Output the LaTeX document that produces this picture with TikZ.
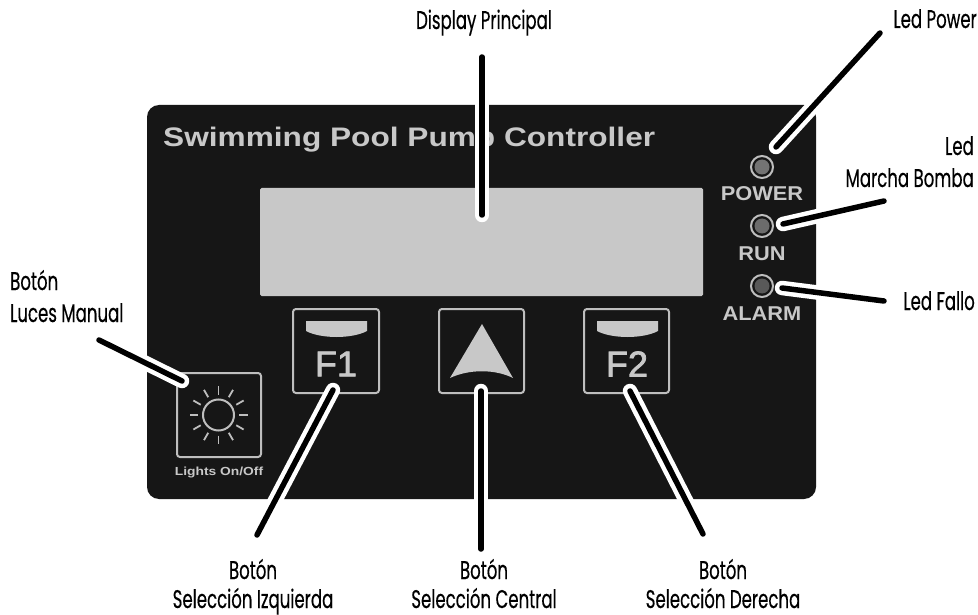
\documentclass[tikz,border=0pt]{standalone}
\usepackage{fontspec}
\setmainfont{Liberation Sans}
\newfontfamily\labelfont[FakeStretch=0.65,FakeBold=0.4]{Poppins}
\newfontfamily\widefont[FakeStretch=1.18]{Liberation Sans Bold}
\newfontfamily\ledfont[FakeStretch=1.09]{Liberation Sans Bold}
\newfontfamily\keyfont[FakeBold=2]{Liberation Sans}
\definecolor{panelc}{HTML}{161616}
\definecolor{lightc}{HTML}{C8C8C8}
\definecolor{framec}{HTML}{BEBEBE}
\tikzset{
  calllabel/.style={font=\labelfont\fontsize{25.5}{26}\selectfont,text=black,inner sep=0pt,anchor=base},
  panellabel/.style={font=\ledfont\fontsize{20}{20}\selectfont,text=lightc,inner sep=0pt},
  keylabel/.style={font=\keyfont\fontsize{36}{36}\selectfont,text=lightc,inner sep=0pt},
  keybox/.style={draw=framec,line width=2pt,rounded corners=3pt,fill=panelc},
  ledring/.style={circle,draw=framec,line width=2pt,fill=panelc,minimum size=22pt,inner sep=0pt},
  ledcore/.style={circle,minimum size=15pt,inner sep=0pt},
  raystyle/.style={draw=framec,line width=1.8pt},
  callout/.style={draw=black,line width=5.5pt,line cap=round,
    preaction={draw=white,line width=14.5pt,line cap=round}},
}
\begin{document}
\begin{tikzpicture}[x=1pt,y=-1pt]
\useasboundingbox (0,0) rectangle (978,615);
\fill[white] (0,0) rectangle (978,615);
% panel
\fill[panelc,rounded corners=12pt] (147,105) rectangle (816,499);
\node[panellabel,anchor=base west,font=\widefont\fontsize{26.8}{27}\selectfont] (title) at (163,147) {Swimming Pool Pump Controller};
% display
\fill[lightc,rounded corners=1.5pt] (260,188) rectangle (703,296);
\node[minimum width=443pt,minimum height=108pt,inner sep=0pt] (display) at (481.5,242) {};
% leds
\node[ledring] (ledpower) at (762,167) {};
\node[ledcore,fill=gray!90!black] (corepower) at (762,167) {};
\node[panellabel] (tpower) at (762,194) {POWER};
\node[ledring] (ledrun) at (762,226) {};
\node[ledcore,fill=gray!85!black] (corerun) at (762,226) {};
\node[panellabel] (trun) at (762,254) {RUN};
\node[ledring] (ledalarm) at (762,286) {};
\node[ledcore,fill=gray!70!black] (corealarm) at (762,286) {};
\node[panellabel] (talarm) at (762,314) {ALARM};
% lights key
\draw[keybox] (177,373) rectangle (261,457);
\draw[framec,line width=2pt] (218.5,415) circle (15.5);
\foreach \a in {0,30,...,330}{
  \draw[raystyle] (218.5,415)++(\a:20.5) -- ++(\a:8.5);
}
\node[panellabel,font=\widefont\fontsize{11.7}{12}\selectfont] (tlights) at (219,472) {Lights On/Off};
% F1
\draw[keybox] (293,309) rectangle (379,393);
\fill[lightc] (306,321) -- (367,321) -- (367,331) .. controls (352,339) and (321,339) .. (306,331) -- cycle;
\node[keylabel] (tf1) at (336,364) {F1};
% Up
\draw[keybox] (439,309) rectangle (524,393);
\fill[lightc] (482,324) -- (513,378) .. controls (495,369) and (469,369) .. (450,378) -- cycle;
% F2
\draw[keybox] (584,309) rectangle (669,393);
\fill[lightc] (597,321) -- (658,321) -- (658,331) .. controls (643,339) and (612,339) .. (597,331) -- cycle;
\node[keylabel] (tf2) at (627,364) {F2};
% labels
\node[calllabel] (ldisplay) at (484,29) {Display Principal};
\node[calllabel,anchor=base east] (lpower) at (977,28) {Led Power};
\node[calllabel,anchor=base east] (lrun1) at (974,155) {Led};
\node[calllabel,anchor=base east] (lrun2) at (974,187) {Marcha Bomba};
\node[calllabel,anchor=base east] (lalarm) at (975,310) {Led Fallo};
\node[calllabel,anchor=base west] (llights1) at (10,290) {Botón};
\node[calllabel,anchor=base west] (llights2) at (10,322) {Luces Manual};
\node[calllabel] (lf1a) at (253,579) {Botón};
\node[calllabel] (lf1b) at (253,608) {Selección Izquierda};
\node[calllabel] (lupa) at (484,579) {Botón};
\node[calllabel] (lupb) at (484,608) {Selección Central};
\node[calllabel] (lf2a) at (723,579) {Botón};
\node[calllabel] (lf2b) at (723,608) {Selección Derecha};
% connector ends
\coordinate (cdisplayA) at (482,57);
\coordinate (cdisplayB) at (482,215);
\coordinate (cpowerA) at (880,33);
\coordinate (cpowerB) at (776,147);
\coordinate (crunA) at (884,201);
\coordinate (crunB) at (783,224);
\coordinate (calarmA) at (884,301);
\coordinate (calarmB) at (782,288);
\coordinate (clightsA) at (99,340);
\coordinate (clightsB) at (182,381);
\coordinate (cfoneA) at (257,535);
\coordinate (cfoneB) at (333,390);
\coordinate (cupA) at (481,549);
\coordinate (cupB) at (481,391);
\coordinate (cftwoA) at (703,534);
\coordinate (cftwoB) at (630,391);
\draw[callout] (cdisplayA) -- (cdisplayB);
\draw[callout] (cpowerA) -- (cpowerB);
\draw[callout] (crunA) -- (crunB);
\draw[callout] (calarmA) -- (calarmB);
\draw[callout] (clightsA) -- (clightsB);
\draw[callout] (cfoneA) -- (cfoneB);
\draw[callout] (cupA) -- (cupB);
\draw[callout] (cftwoA) -- (cftwoB);
\end{tikzpicture}
\end{document}
